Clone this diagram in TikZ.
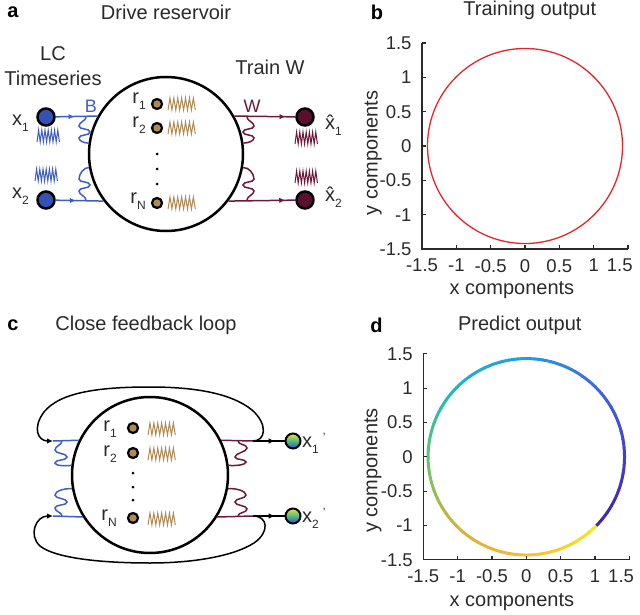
\documentclass[tikz,border=0pt]{standalone}
\usepackage{fontspec}
\setmainfont{Liberation Sans}
\usetikzlibrary{positioning, arrows.meta, decorations.markings}

\definecolor{inblue}{HTML}{3F5EC2}
\definecolor{nodeblue}{HTML}{3452B4}
\definecolor{outred}{HTML}{6B1A3C}
\definecolor{nodered}{HTML}{5A0F2E}
\definecolor{restan}{HTML}{B08A55}
\definecolor{plotred}{HTML}{E3262A}
\definecolor{axgray}{HTML}{2A2A2A}
% colour ramp along the predicted orbit
\definecolor{pa0}{rgb}{0.24,0.15,0.66}
\definecolor{pa1}{rgb}{0.27,0.25,0.80}
\definecolor{pa2}{rgb}{0.25,0.42,0.88}
\definecolor{pa3}{rgb}{0.13,0.62,0.90}
\definecolor{pa4}{rgb}{0.10,0.72,0.76}
\definecolor{pa5}{rgb}{0.40,0.77,0.42}
\definecolor{pa6}{rgb}{0.84,0.70,0.22}
\definecolor{pa7}{rgb}{0.98,0.74,0.20}
\definecolor{pa8}{rgb}{0.97,0.92,0.10}

\newcommand{\lsub}[1]{\raisebox{-6pt}{\fontsize{12}{12}\selectfont #1}}
% zigzag spring: start x, y, colour, half tooth width
\newcommand{\drawcoil}[4]{\draw[coilln, #3] (#1,#2+6) \foreach \k in {1,...,7}{ -- ++(#4,-12) -- ++(#4,12)};}

\tikzset{
    txt/.style={inner sep=0, text=axgray, font=\fontsize{20}{25}\selectfont},
    tick/.style={inner sep=0, text=axgray, font=\fontsize{18.5}{22}\selectfont},
    panel/.style={inner sep=0, font=\fontsize{20}{24}\selectfont\bfseries},
    resv/.style={circle, draw, line width=2.5pt, minimum size=154pt, inner sep=0},
    unit/.style={circle, draw, line width=2.2pt, fill=restan, minimum size=10pt, inner sep=0},
    dot/.style={circle, fill=black, minimum size=3pt, inner sep=0},
    ionode/.style={circle, draw, line width=2.5pt, minimum size=17pt, inner sep=0},
    bline/.style={inblue, line width=1.5pt},
    wline/.style={outred, line width=1.5pt},
    fline/.style={black, line width=1.5pt},
    coilln/.style={line width=1pt, line join=miter},
    midarr/.style={postaction={decorate, decoration={markings,
        mark=at position #1 with {\arrow{Latex[length=6pt,width=5.5pt]}}}}},
    axln/.style={axgray, line width=1.2pt},
}

\begin{document}
\begin{tikzpicture}[x=1pt, y=-1pt]
    \useasboundingbox (0,0) rectangle (640,615);

    %% a: drive reservoir
    \node[panel] (pa) at (13,12) {a};
    \node[txt] (ta) at (166,12) {Drive reservoir};
    \node[txt, align=center] (lcts) at (53,66) {LC\\Timeseries};
    \node[txt] (trw) at (270,67) {Train W};

    \node[resv] (resA) at (166,154) {};
    \node[unit] (ra1) at (157,104) {};
    \node[unit] (ra2) at (157,128) {};
    \node[dot] (da1) at (157,154) {};
    \node[dot] (da2) at (157,169) {};
    \node[dot] (da3) at (157,184) {};
    \node[unit] (raN) at (157,203) {};
    \node[txt, anchor=base east] (la1) at (146,104) {r\lsub{1}};
    \node[txt, anchor=base east] (la2) at (146,128) {r\lsub{2}};
    \node[txt, anchor=base east] (laN) at (146,203) {r\lsub{N}};
    \drawcoil{168}{104}{restan}{1.95}
    \drawcoil{168}{128}{restan}{1.95}
    \drawcoil{168}{203}{restan}{1.95}

    \node[ionode, fill=nodeblue] (x1) at (46,117) {};
    \node[ionode, fill=nodeblue] (x2) at (46,200) {};
    \node[ionode, fill=nodered] (y1) at (305,117) {};
    \node[ionode, fill=nodered] (y2) at (305,200) {};
    \node[txt, anchor=base east] (lx1) at (29,126) {x\lsub{1}};
    \node[txt, anchor=base east] (lx2) at (29,198) {x\lsub{2}};
    \node[txt, anchor=base west] (ly1) at (325,130) {\^{x}\lsub{1}};
    \node[txt, anchor=base west] (ly2) at (325,201) {\^{x}\lsub{2}};
    \node[txt, text=inblue, font=\fontsize{18}{20}\selectfont] (lB) at (91,106) {B};
    \node[txt, text=outred, font=\fontsize{18}{20}\selectfont] (lW) at (252,106) {W};

    \drawcoil{37}{136}{inblue}{1.6}
    \drawcoil{35}{175}{inblue}{1.6}
    \drawcoil{295}{138}{outred}{1.6}
    \drawcoil{295}{177}{outred}{1.6}

    \draw[bline, midarr=0.45] (x1) -- (resA.151);
    \draw[bline, midarr=0.42] (x2) -- (resA.217);
    \draw[wline, midarr=0.84] (resA.29) -- (y1);
    \draw[wline, midarr=0.85] (resA.-37) -- (y2);

    \coordinate (sA1) at (86,117);
    \coordinate (sA2) at (86,200);
    \coordinate (sA3) at (247,117);
    \coordinate (sA4) at (247,200);
    \draw[bline] (sA1) .. controls (86,121) and (79,122) .. (79,126) .. controls (79,130) and (90,128) .. (90,132)
        .. controls (90,136) and (79,134) .. (79,138) .. controls (79,141) and (84,143) .. (resA.172);
    \draw[bline] (sA2) .. controls (86,196) and (79,195) .. (79,191) .. controls (79,187) and (90,189) .. (90,185)
        .. controls (90,181) and (79,183) .. (79,179) .. controls (79,174) and (84,167) .. (resA.190);
    \draw[wline] (sA3) .. controls (247,121) and (254,122) .. (254,126) .. controls (254,130) and (243,128) .. (243,132)
        .. controls (243,136) and (254,134) .. (254,138) .. controls (254,141) and (248,143) .. (resA.8);
    \draw[wline] (sA4) .. controls (247,196) and (254,195) .. (254,191) .. controls (254,187) and (243,189) .. (243,185)
        .. controls (243,181) and (254,183) .. (254,179) .. controls (254,174) and (249,167) .. (resA.-10);

    %% c: close feedback loop
    \node[panel] (pc) at (13,325) {c};
    \node[txt] (tc) at (146,325) {Close feedback loop};

    \node[resv, minimum size=156pt] (resC) at (150,475) {};
    \node[unit] (rc1) at (133,428) {};
    \node[unit] (rc2) at (133,453) {};
    \node[dot] (dc1) at (133,473) {};
    \node[dot] (dc2) at (133,487) {};
    \node[dot] (dc3) at (133,500) {};
    \node[unit] (rcN) at (133,518) {};
    \node[txt, anchor=base east] (lc1) at (117,431) {r\lsub{1}};
    \node[txt, anchor=base east] (lc2) at (117,456) {r\lsub{2}};
    \node[txt, anchor=base east] (lcN) at (117,520) {r\lsub{N}};
    \drawcoil{148}{429}{restan}{1.95}
    \drawcoil{148}{454}{restan}{1.95}
    \drawcoil{148}{519}{restan}{1.95}

    \node[ionode, line width=2pt, minimum size=15pt, top color=pa8!70!pa7, bottom color=pa1, middle color=pa5!60!pa4] (o1) at (293,441) {};
    \node[ionode, line width=2pt, minimum size=15pt, top color=pa8!70!pa7, bottom color=pa1, middle color=pa5!60!pa4] (o2) at (293,516) {};
    \node[txt, anchor=base west] (lo1) at (302,447) {x\lsub{1}\hspace{4pt}\raisebox{6pt}{\fontsize{12}{12}\selectfont '}};
    \node[txt, anchor=base west] (lo2) at (302,522) {x\lsub{2}\hspace{4pt}\raisebox{6pt}{\fontsize{12}{12}\selectfont '}};

    \coordinate (fC1) at (53,441);
    \coordinate (fC2) at (53,516);
    \coordinate (jC1) at (253,441);
    \coordinate (jC2) at (253,516);
    \draw[bline] (fC1) -- (resC.154);
    \draw[bline] (fC2) -- (resC.212);
    \draw[wline] (resC.26) -- (jC1);
    \draw[wline] (resC.-32) -- (jC2);
    \draw[fline, midarr=0.69] (jC1) -- (o1);
    \draw[fline, midarr=0.69] (jC2) -- (o2);

    \draw[fline, -{Latex[length=6pt,width=5.5pt]}] (jC1) .. controls (266,441) and (268,424) .. (252,410)
        .. controls (230,392) and (190,387) .. (150,387) .. controls (100,387) and (60,392) .. (44,412)
        .. controls (32,428) and (38,441) .. (fC1);
    \draw[fline, -{Latex[length=6pt,width=5.5pt]}] (jC2) .. controls (268,516) and (270,532) .. (254,543)
        .. controls (232,557) and (190,563) .. (150,563) .. controls (100,563) and (55,558) .. (40,546)
        .. controls (28,535) and (36,516) .. (fC2);

    \coordinate (sC1) at (62,441);
    \coordinate (sC2) at (62,516);
    \coordinate (sC3) at (238,441);
    \coordinate (sC4) at (238,516);
    \draw[bline] (sC1) .. controls (62,445) and (55,446) .. (55,450) .. controls (55,454) and (67,453) .. (67,457)
        .. controls (67,461) and (55,459) .. (55,463) .. controls (55,466) and (66,466) .. (resC.173);
    \draw[bline] (sC2) .. controls (62,512) and (55,512) .. (55,508) .. controls (55,504) and (67,506) .. (67,502)
        .. controls (67,498) and (55,499) .. (55,495) .. controls (55,491) and (65,488) .. (resC.190);
    \draw[wline] (sC3) .. controls (238,445) and (247,444) .. (247,448) .. controls (247,452) and (235,453) .. (235,457)
        .. controls (235,460) and (246,459) .. (246,462) .. controls (246,465) and (235,466) .. (resC.7);
    \draw[wline] (sC4) .. controls (238,512) and (247,513) .. (247,509) .. controls (247,505) and (235,506) .. (235,502)
        .. controls (235,498) and (246,499) .. (246,495) .. controls (246,491) and (236,488) .. (resC.-10);

    %% b: training output
    \begin{scope}[shift={(525,146)}, x=68.67pt, y=68.67pt]
        \draw[plotred, line width=1.3pt] (0,0) circle[radius=1.42];
        \draw[axln] (-1.5,1.5) -- (-1.5,-1.5) -- (1.5,-1.5);
        \foreach \v [count=\i] in {-1.5,-1,-0.5,0,0.5,1}{
            \draw[axln] (\v,-1.5) -- ++(0,4pt);
            \node[tick, anchor=north] (btx\i) at (\v,-1.645) {\v};
        }
        \draw[axln] (1.5,-1.5) -- ++(0,4pt);
        \node[tick, anchor=north east] (btx7) at (1.57,-1.645) {1.5};
        \foreach \v [count=\i] in {-1.5,-1,-0.5,0,0.5,1,1.5}{
            \draw[axln] (-1.5,\v) -- ++(4pt,0);
            \node[tick, anchor=east] (bty\i) at (-1.65,\v) {\v};
        }
        \node[txt] (bxl) at (-0.19,-2.10) {x components};
        \node[txt, rotate=90] (byl) at (-2.21,-0.10) {y components};
        \node[txt] (tb) at (0.07,1.98) {Training output};
        \node[panel] (pb) at (-2.155,1.95) {b};
    \end{scope}

    %% d: predict output
    \begin{scope}[shift={(526.3,456.8)}, x=68.7pt, y=68.7pt]
        \foreach \i in {0,...,71}{
            \pgfmathsetmacro\tv{\i/72*8}
            \pgfmathtruncatemacro\ki{floor(\tv)}
            \pgfmathtruncatemacro\kj{\ki+1}
            \pgfmathsetmacro\mixp{100-100*(\tv-\ki)}
            \pgfmathsetmacro\ang{-45+5*\i}
            \draw[line width=3pt, color=pa\ki!\mixp!pa\kj] (\ang:1.43) arc[start angle=\ang, end angle=\ang+5.5, radius=1.43];
        }
        \draw[axln] (-1.5,1.5) -- (-1.5,-1.5) -- (1.5,-1.5);
        \foreach \v [count=\i] in {-1.5,-1,-0.5,0,0.5,1}{
            \draw[axln] (\v,-1.5) -- ++(0,4pt);
            \node[tick, anchor=north] (dtx\i) at (\v,-1.645) {\v};
        }
        \draw[axln] (1.5,-1.5) -- ++(0,4pt);
        \node[tick, anchor=north east] (dtx7) at (1.57,-1.645) {1.5};
        \foreach \v [count=\i] in {-1.5,-1,-0.5,0,0.5,1,1.5}{
            \draw[axln] (-1.5,\v) -- ++(4pt,0);
            \node[tick, anchor=east] (dty\i) at (-1.65,\v) {\v};
        }
        \node[txt] (dxl) at (-0.21,-2.12) {x components};
        \node[txt, rotate=90] (dyl) at (-2.23,-0.20) {y components};
        \node[txt] (td) at (-0.095,1.914) {Predict output};
        \node[panel] (pd) at (-2.18,1.914) {d};
    \end{scope}
\end{tikzpicture}
\end{document}
